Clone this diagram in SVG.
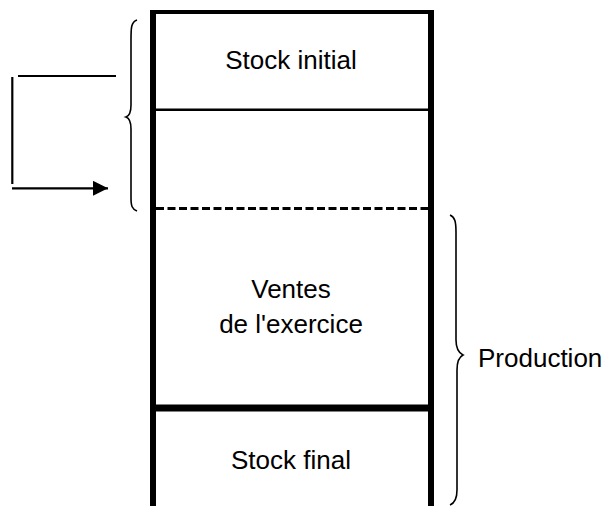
<svg xmlns="http://www.w3.org/2000/svg" width="605" height="506" viewBox="0 0 605 506">
<style>
.t{font-family:"Liberation Sans",Arial,sans-serif;font-size:26px;fill:#000}
.m{text-anchor:middle}
.ln{stroke:#000;fill:none}
.br{stroke:#000;fill:none;stroke-width:1.6}
</style>
<defs>
<marker id="ah" markerWidth="16" markerHeight="16" refX="15" refY="7.5" orient="auto" markerUnits="userSpaceOnUse">
<path d="M0,0 L15,7.5 L0,15 Z" fill="#000"/>
</marker>
</defs>
<rect width="605" height="506" fill="#fff"/>
<g id="column">
<line class="ln" x1="150" y1="12" x2="434" y2="12" stroke-width="4"/>
<line class="ln" x1="153" y1="10" x2="153" y2="506" stroke-width="6"/>
<line class="ln" x1="431" y1="13" x2="431" y2="506" stroke-width="6"/>
<line class="ln" x1="155" y1="109.7" x2="430" y2="109.7" stroke-width="2.5"/>
<line class="ln" x1="156" y1="208.5" x2="428" y2="208.5" stroke-width="3" stroke-dasharray="8 3.5"/>
<line class="ln" x1="153" y1="408" x2="434" y2="408" stroke-width="7"/>
</g>
<g id="stock-initial">
<text class="t m" x="291" y="69">Stock initial</text>
</g>
<g id="ventes">
<text class="t m" x="291" y="298">Ventes</text>
<text class="t m" x="291" y="333">de l'exercice</text>
</g>
<g id="stock-final">
<text class="t m" x="291" y="469">Stock final</text>
</g>
<g id="brace-left">
<path class="br" d="M137,20 C131,22 131,28 131,40 L131,105 C131,112 129,116 126,117 C129,118 131,122 131,129 L131,198 C131,206 132,209 137,211"/>
</g>
<g id="production">
<path class="br" d="M450,215 C455,217 456,222 456,232 L456,340 C456,348 459,353 463,355 C459,357 457,362 457,370 L457,490 C457,498 455,503 450,505"/>
<text class="t" x="478" y="367">Production</text>
</g>
<g id="connectors">
<line class="ln" x1="18" y1="76" x2="116" y2="76" stroke-width="2.2"/>
<line class="ln" x1="12.3" y1="77" x2="12.3" y2="184" stroke-width="2.2"/>
<line class="ln" x1="12" y1="188.3" x2="108" y2="188.3" stroke-width="2.2" marker-end="url(#ah)"/>
</g>
</svg>
